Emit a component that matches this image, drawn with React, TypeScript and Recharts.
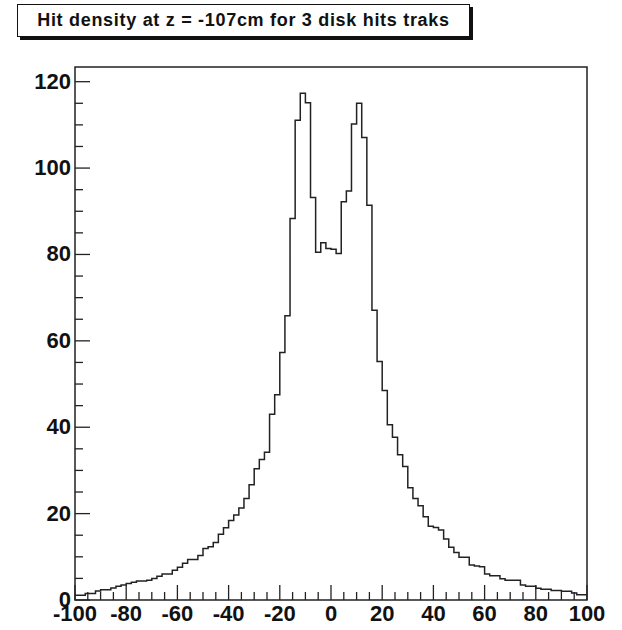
import { LineChart, Line, XAxis, YAxis, ReferenceArea } from "recharts";

// bin contents, 2 cm bins
const leftWing = [
  1.1, 1.1, 1.5, 1.5, 2.1, 2.4, 2.4, 2.8, 3.2, 3.5,
  3.8, 4.1, 4.4, 4.4, 4.6, 5.0, 5.5, 6.0, 6.0, 6.9,
  7.6, 8.5, 9.4, 9.4, 10.3, 11.9, 12.3, 13.3, 15.2, 16.7,
  18.4, 19.7, 21.3, 23.5, 26.7, 30.4, 32.5, 34.2, 43.0, 47.5,
  57.3, 65.8, 88.3, 111.1, 117.3, 115.1, 93.2, 80.5, 82.7, 81.4,
];
const rightWing = [
  81.2, 80.2, 92.2, 94.7, 110.2, 115.0, 107.1, 91.4, 67.1, 55.2,
  48.5, 40.6, 37.7, 33.6, 30.9, 26.0, 23.5, 21.8, 19.3, 17.1,
  16.8, 16.2, 14.1, 12.2, 11.0, 9.9, 9.9, 8.1, 7.9, 7.7,
  6.0, 5.6, 5.6, 4.9, 4.6, 4.6, 4.6, 3.5, 3.2, 3.2,
  2.7, 2.5, 2.5, 2.2, 2.2, 2.0, 2.0, 1.6, 1.2, 1.2,
];
const xRange = [-100, 100];
const yMax = 123.4;
const xMajor = [-100, -80, -60, -40, -20, 0, 20, 40, 60, 80, 100];
const yMajor = [0, 20, 40, 60, 80, 100, 120];
const title = "Hit density at z = -107cm for 3 disk hits traks";

const counts = [...leftWing, ...rightWing];
const binWidth = (xRange[1] - xRange[0]) / counts.length;
const data = counts.map((c, i) => ({ x: xRange[0] + i * binWidth, y: c }));
data.push({ x: xRange[1], y: counts[counts.length - 1] });

const minorTicks = (from: number, to: number, step: number) => {
  const out: number[] = [];
  for (let v = from; v <= to + 1e-9; v += step) out.push(v);
  return out;
};

const labelStyle = {
  fontFamily: "'Liberation Sans', Arial, sans-serif",
  fontWeight: 700,
  fontSize: 22,
  fill: "#111",
};

function XTick(props: any) {
  const { x, y, payload } = props;
  const major = xMajor.includes(payload.value);
  return (
    <g>
      <line x1={x} x2={x} y1={y} y2={y - (major ? 15 : 8)} stroke="#222" strokeWidth={1.3} />
      {major && (
        <text x={x} y={y + 21} textAnchor="middle" {...labelStyle}>
          {payload.value}
        </text>
      )}
    </g>
  );
}

function YTick(props: any) {
  const { x, y, payload } = props;
  const major = yMajor.includes(payload.value);
  return (
    <g>
      <line x1={x} x2={x + (major ? 15 : 8)} y1={y} y2={y} stroke="#222" strokeWidth={1.3} />
      {major && (
        <text x={x - 4} y={y + 7} textAnchor="end" {...labelStyle}>
          {payload.value}
        </text>
      )}
    </g>
  );
}

export default function App() {
  return (
    <div style={{ position: "absolute", left: 0, top: 0, width: 622, height: 630, background: "#fff" }}>
      <div
        style={{
          position: "absolute",
          left: 17,
          top: 4,
          width: 451,
          height: 31,
          border: "1px solid #111",
          boxShadow: "3px 3px 0 #111",
          background: "#fff",
          fontFamily: "'Liberation Sans', Arial, sans-serif",
          fontWeight: 700,
          fontSize: 18,
          letterSpacing: 0.7,
          lineHeight: "31px",
          textAlign: "center",
          color: "#111",
          whiteSpace: "nowrap",
          zIndex: 2,
        }}
      >
        {title}
      </div>
      <LineChart width={622} height={630} data={data} margin={{ top: 67, right: 35, bottom: 0, left: 0 }}>
        <XAxis
          dataKey="x"
          type="number"
          domain={xRange}
          ticks={minorTicks(-100, 100, 5)}
          interval={0}
          height={30}
          axisLine={false}
          tickLine={false}
          tickSize={0}
          tickMargin={0}
          tick={<XTick />}
        />
        <YAxis
          type="number"
          domain={[0, yMax]}
          ticks={minorTicks(0, 120, 5)}
          interval={0}
          width={75}
          axisLine={false}
          tickLine={false}
          tickSize={0}
          tickMargin={0}
          tick={<YTick />}
        />
        <ReferenceArea x1={-100} x2={100} y1={0} y2={yMax} fill="none" stroke="#222" strokeWidth={1.5} fillOpacity={0} />
        <Line
          dataKey="y"
          type="stepAfter"
          stroke="#222"
          strokeWidth={1.5}
          dot={false}
          isAnimationActive={false}
        />
      </LineChart>
    </div>
  );
}
